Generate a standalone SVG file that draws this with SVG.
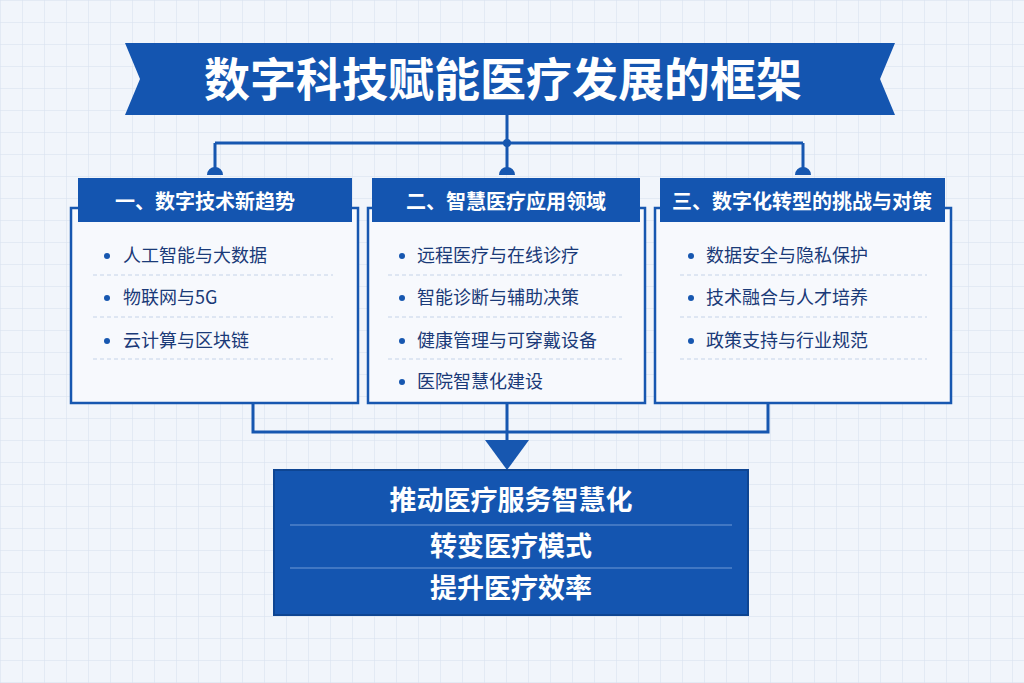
<svg xmlns="http://www.w3.org/2000/svg" width="1024" height="683" viewBox="0 0 1024 683">
<defs>
<pattern id="grid" width="22" height="22" patternUnits="userSpaceOnUse"><path d="M22 0H0V22" fill="none" stroke="#d6e0ee" stroke-width="1"/></pattern>
<style>
.t{font-family:"Noto Sans CJK SC","Noto Sans",sans-serif;font-weight:bold;fill:#fff}
.i{font-family:"Noto Sans CJK SC","Noto Sans",sans-serif;font-size:18px;fill:#1a3a78}
.box{fill:#f7f9fd;stroke:#1757b0;stroke-width:2.5}
.hd{fill:#1455b0}
.sep{stroke:#c5d3e8;stroke-dasharray:4 3;stroke-width:1}
.ln{stroke:#1757b0;stroke-width:3;fill:none}
.dot{fill:#1757b0}
</style>
</defs>
<rect width="1024" height="683" fill="#f1f5fb"/>
<rect width="1024" height="683" fill="url(#grid)"/>
<g id="connectors">
<path class="ln" d="M507 115V143M215 143H803M215 143V172M507 143V172M803 143V172"/>
<path d="M207 175a8 8 0 0 1 16 0zM499 175a8 8 0 0 1 16 0zM795 175a8 8 0 0 1 16 0z" class="dot"/>
<circle cx="507" cy="143" r="4" class="dot"/>
<path class="ln" d="M253 403V432H768V403M507 403V440"/>
<path d="M485 440H529L507 470Z" class="dot"/>
</g>
<g id="title">
<path d="M125 43H895L880 79L895 115H125L140 79Z" fill="#1455b0"/>
<text x="503" y="96" text-anchor="middle" class="t" font-size="46">数字科技赋能医疗发展的框架</text>
</g>
<g id="box1">
<rect class="box" x="71" y="208" width="287" height="195"/>
<rect class="hd" x="78" y="178" width="274" height="44"/>
<text x="205" y="209" text-anchor="middle" class="t" font-size="20">一、数字技术新趋势</text>
<circle class="dot" cx="107" cy="256" r="3"/><text class="i" x="123" y="262">人工智能与大数据</text>
<line class="sep" x1="93" y1="275" x2="333" y2="275"/>
<circle class="dot" cx="107" cy="298" r="3"/><text class="i" x="123" y="304">物联网与5G</text>
<line class="sep" x1="93" y1="317" x2="333" y2="317"/>
<circle class="dot" cx="107" cy="341" r="3"/><text class="i" x="123" y="347">云计算与区块链</text>
<line class="sep" x1="93" y1="359" x2="333" y2="359"/>
</g>
<g id="box2">
<rect class="box" x="368" y="208" width="277" height="195"/>
<rect class="hd" x="372" y="178" width="268" height="44"/>
<text x="506" y="209" text-anchor="middle" class="t" font-size="20">二、智慧医疗应用领域</text>
<circle class="dot" cx="402" cy="256" r="3"/><text class="i" x="417" y="262">远程医疗与在线诊疗</text>
<line class="sep" x1="388" y1="275" x2="622" y2="275"/>
<circle class="dot" cx="402" cy="298" r="3"/><text class="i" x="417" y="304">智能诊断与辅助决策</text>
<line class="sep" x1="388" y1="317" x2="622" y2="317"/>
<circle class="dot" cx="402" cy="341" r="3"/><text class="i" x="417" y="347">健康管理与可穿戴设备</text>
<line class="sep" x1="388" y1="359" x2="622" y2="359"/>
<circle class="dot" cx="402" cy="382" r="3"/><text class="i" x="417" y="388">医院智慧化建设</text>
</g>
<g id="box3">
<rect class="box" x="655" y="208" width="296" height="195"/>
<rect class="hd" x="660" y="178" width="285" height="44"/>
<text x="802" y="209" text-anchor="middle" class="t" font-size="20">三、数字化转型的挑战与对策</text>
<circle class="dot" cx="691" cy="256" r="3"/><text class="i" x="706" y="262">数据安全与隐私保护</text>
<line class="sep" x1="680" y1="275" x2="927" y2="275"/>
<circle class="dot" cx="691" cy="298" r="3"/><text class="i" x="706" y="304">技术融合与人才培养</text>
<line class="sep" x1="680" y1="317" x2="927" y2="317"/>
<circle class="dot" cx="691" cy="341" r="3"/><text class="i" x="706" y="347">政策支持与行业规范</text>
<line class="sep" x1="680" y1="359" x2="927" y2="359"/>
</g>
<g id="result">
<rect x="274" y="470" width="474" height="145" fill="#1455b0" stroke="#0e4592" stroke-width="2"/>
<line x1="290" y1="525" x2="732" y2="525" stroke="#6f9ad6" stroke-width="1"/>
<line x1="290" y1="568" x2="732" y2="568" stroke="#6f9ad6" stroke-width="1"/>
<text x="511" y="510" text-anchor="middle" class="t" font-size="27">推动医疗服务智慧化</text>
<text x="511" y="556" text-anchor="middle" class="t" font-size="27">转变医疗模式</text>
<text x="511" y="598" text-anchor="middle" class="t" font-size="27">提升医疗效率</text>
</g>
</svg>
